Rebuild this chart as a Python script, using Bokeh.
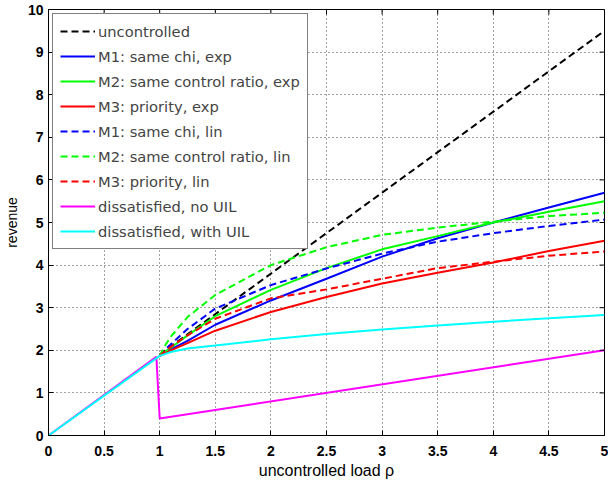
import math
from bokeh.plotting import figure
from bokeh.models import Range1d, FixedTicker, Legend
from bokeh.embed import file_html
from bokeh.resources import INLINE

# ---- data ----
rho = [1, 1.05, 1.1, 1.25, 1.5, 2, 2.5, 3, 3.5, 4, 4.5, 5]
uncontrolled_x = [1, 5]
uncontrolled_y = [1.9, 9.5]
m1_exp = [1.87, 1.95, 2.02, 2.22, 2.6, 3.17, 3.68, 4.2, 4.63, 5.0, 5.35, 5.7]
m2_exp = [1.87, 1.97, 2.06, 2.35, 2.8, 3.42, 3.93, 4.37, 4.68, 5.0, 5.25, 5.5]
m3_exp = [1.87, 1.93, 2.0, 2.17, 2.46, 2.9, 3.25, 3.57, 3.82, 4.06, 4.33, 4.57]
m1_lin = [1.87, 2.02, 2.14, 2.5, 2.98, 3.53, 3.92, 4.27, 4.55, 4.75, 4.92, 5.07]
m2_lin = [1.87, 2.12, 2.32, 2.78, 3.3, 4.0, 4.42, 4.71, 4.88, 5.02, 5.15, 5.23]
m3_lin = [1.87, 1.98, 2.08, 2.35, 2.74, 3.22, 3.43, 3.68, 3.93, 4.08, 4.22, 4.32]
noUIL_x = [0, 0.97, 1.0, 5.0]
noUIL_y = [0, 1.85, 0.4, 2.0]
UIL_x = [0, 1, 1.1, 1.25, 1.5, 2, 2.5, 3, 3.5, 4, 4.5, 5]
UIL_y = [0, 1.87, 1.96, 2.04, 2.11, 2.26, 2.38, 2.49, 2.58, 2.67, 2.75, 2.83]

x_ticks = [0, 0.5, 1, 1.5, 2, 2.5, 3, 3.5, 4, 4.5, 5]
x_tick_labels = ["0", "0.5", "1", "1.5", "2", "2.5", "3", "3.5", "4", "4.5", "5"]
y_ticks = [0, 1, 2, 3, 4, 5, 6, 7, 8, 9, 10]
X_MIN, X_MAX, Y_MIN, Y_MAX = 0, 5, 0, 10

FONT = "Liberation Sans"

p = figure(width=608, height=485, output_backend="svg", toolbar_location=None,
           x_range=Range1d(X_MIN, X_MAX), y_range=Range1d(Y_MIN, Y_MAX),
           min_border_left=48, min_border_right=4, min_border_top=9, min_border_bottom=50)
p.outline_line_color = "black"
p.outline_line_width = 1

p.xgrid.ticker = FixedTicker(ticks=x_ticks)
p.ygrid.ticker = FixedTicker(ticks=y_ticks)
for g in [p.xgrid[0], p.ygrid[0]]:
    g.grid_line_color = "#444444"
    g.grid_line_dash = "1 3"
    g.grid_line_width = 1

lw = 2
dash = "7 4"
r_unc = p.line(uncontrolled_x, uncontrolled_y, color="black", line_width=lw, line_dash=dash)
r1 = p.line(rho, m1_exp, color="#0000ff", line_width=lw)
r2 = p.line(rho, m2_exp, color="#00ff00", line_width=lw)
r3 = p.line(rho, m3_exp, color="#ff0000", line_width=lw)
r4 = p.line(rho, m1_lin, color="#0000ff", line_width=lw, line_dash=dash)
r5 = p.line(rho, m2_lin, color="#00ff00", line_width=lw, line_dash=dash)
r6 = p.line(rho, m3_lin, color="#ff0000", line_width=lw, line_dash=dash)
r7 = p.line(noUIL_x, noUIL_y, color="#ff00ff", line_width=lw)
r8 = p.line(UIL_x, UIL_y, color="#00ffff", line_width=lw)

# mirrored inward ticks on the top and right edges of the box
p.ray(x=x_ticks, y=[Y_MAX] * len(x_ticks), length=5, length_units="screen",
      angle=-math.pi / 2, color="black", line_width=1)
p.ray(x=[X_MAX] * len(y_ticks), y=y_ticks, length=5, length_units="screen",
      angle=math.pi, color="black", line_width=1)

legend = Legend(items=[
    ("uncontrolled", [r_unc]),
    ("M1: same chi, exp", [r1]),
    ("M2: same control ratio, exp", [r2]),
    ("M3: priority, exp", [r3]),
    ("M1: same chi, lin", [r4]),
    ("M2: same control ratio, lin", [r5]),
    ("M3: priority, lin", [r6]),
    ("dissatisfied, no UIL", [r7]),
    ("dissatisfied, with UIL", [r8]),
], location="top_left")
legend.label_text_font = "DejaVu Sans"
legend.label_text_font_size = "14.7px"
legend.label_height = 20
legend.glyph_width = 35
legend.glyph_height = 20
legend.spacing = 5
legend.padding = 7
legend.margin = 4
legend.label_standoff = 3
legend.border_line_color = "black"
legend.border_line_width = 1
legend.background_fill_color = "white"
legend.background_fill_alpha = 1
p.add_layout(legend)

# axes
p.xaxis.ticker = FixedTicker(ticks=x_ticks)
p.xaxis.major_label_overrides = {t: l for t, l in zip(x_ticks, x_tick_labels)}
p.yaxis.ticker = FixedTicker(ticks=y_ticks)
p.xaxis.axis_label = "uncontrolled load ρ"
p.yaxis.axis_label = "revenue"
for ax in [p.xaxis[0], p.yaxis[0]]:
    ax.major_tick_in = 5
    ax.major_tick_out = 0
    ax.minor_tick_in = 0
    ax.minor_tick_out = 0
    ax.axis_line_color = "black"
    ax.major_tick_line_color = "black"
    ax.major_label_text_font = FONT
    ax.major_label_text_font_size = "14px"
    ax.major_label_text_font_style = "bold"
    ax.major_label_text_color = "black"
    ax.axis_label_text_font = FONT
    ax.axis_label_text_font_style = "normal"
    ax.axis_label_text_color = "black"
p.xaxis.axis_label_text_font_size = "16px"
p.yaxis.axis_label_text_font_size = "14px"
p.xaxis.major_label_standoff = 10
p.xaxis.axis_label_standoff = 3
p.yaxis.major_label_standoff = 5
p.yaxis.axis_label_standoff = 5

open("out.html", "w").write(file_html(p, INLINE))
